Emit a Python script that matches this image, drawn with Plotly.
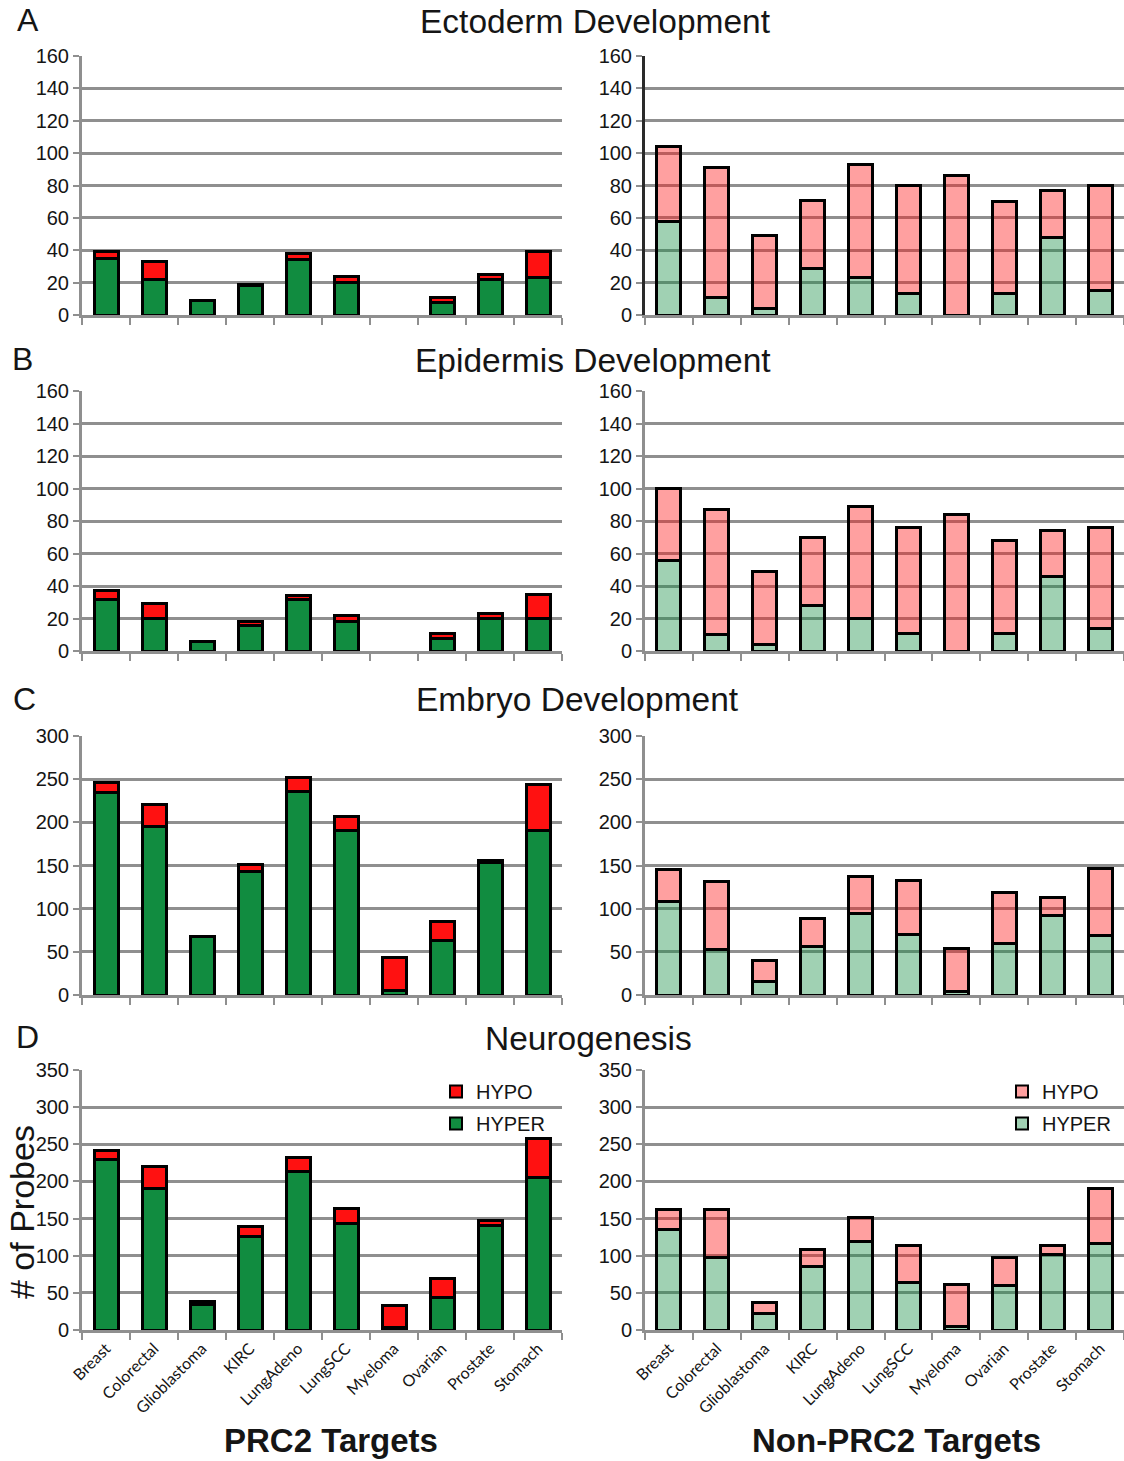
import plotly.graph_objects as go

# Cancer types along the x axis
categories = ["Breast", "Colorectal", "Glioblastoma", "KIRC", "LungAdeno",
              "LungSCC", "Myeloma", "Ovarian", "Prostate", "Stomach"]

# A: Ectoderm Development (None = no probes, nothing drawn)
ecto_prc2_hyper = [35, 22, 9, 18, 34, 20, None, 8, 22, 23]
ecto_prc2_hypo = [4, 11, 0, 1, 4, 4, None, 3, 3, 16]
ecto_non_hyper = [58, 11, 4, 29, 23, 13, 0, 13, 48, 15]
ecto_non_hypo = [46, 80, 45, 42, 70, 67, 86, 57, 29, 65]

# B: Epidermis Development
epi_prc2_hyper = [32, 20, 6, 16, 32, 18, None, 8, 20, 20]
epi_prc2_hypo = [5, 9, 0, 2, 2, 4, None, 3, 3, 15]
epi_non_hyper = [56, 10, 4, 28, 20, 11, 0, 11, 46, 14]
epi_non_hypo = [44, 77, 45, 42, 69, 65, 84, 57, 28, 62]

# C: Embryo Development
emb_prc2_hyper = [234, 195, 68, 143, 236, 190, 5, 63, 153, 190]
emb_prc2_hypo = [12, 26, 0, 8, 16, 17, 39, 22, 3, 54]
emb_non_hyper = [108, 53, 16, 56, 94, 70, 4, 60, 92, 69]
emb_non_hypo = [37, 78, 24, 33, 43, 63, 50, 59, 21, 77]

# D: Neurogenesis
neuro_prc2_hyper = [230, 191, 35, 126, 214, 144, 3, 44, 141, 205]
neuro_prc2_hypo = [12, 29, 4, 13, 18, 20, 30, 26, 7, 53]
neuro_non_hyper = [135, 98, 22, 85, 119, 64, 5, 60, 101, 117]
neuro_non_hypo = [27, 64, 15, 24, 32, 50, 56, 38, 13, 73]

panel_letters = ["A", "B", "C", "D"]
panel_titles = ["Ectoderm Development", "Epidermis Development",
                "Embryo Development", "Neurogenesis"]
y_max = [160, 160, 300, 350]
y_step = [20, 20, 50, 50]

rows = [
    (ecto_prc2_hyper, ecto_prc2_hypo, ecto_non_hyper, ecto_non_hypo),
    (epi_prc2_hyper, epi_prc2_hypo, epi_non_hyper, epi_non_hypo),
    (emb_prc2_hyper, emb_prc2_hypo, emb_non_hyper, emb_non_hypo),
    (neuro_prc2_hyper, neuro_prc2_hypo, neuro_non_hyper, neuro_non_hypo),
]

W, H = 1124, 1461

GREEN = "rgb(17,140,64)"
RED = "rgb(255,17,17)"
GREEN_LIGHT = "rgba(17,140,64,0.4)"
RED_LIGHT = "rgba(255,17,17,0.4)"
GRID = "#8f8f8f"
TEXT = "#151515"
FONT = "Liberation Sans, Arial, sans-serif"

# pixel rows (top, bottom) of each plot area
row_px = [(56, 315), (391, 651), (736, 995), (1070, 1330)]
col_px = [(82, 562), (645, 1124)]


def ydom(top, bottom):
    return [1 - bottom / H, 1 - top / H]


def xdom(left, right):
    return [left / W, right / W]


fig = go.Figure()
layout = {}
annotations = []

for r in range(4):
    hyper_l, hypo_l, hyper_r, hypo_r = rows[r]
    for c in range(2):
        idx = r * 2 + c + 1
        xa = "x" if idx == 1 else f"x{idx}"
        ya = "y" if idx == 1 else f"y{idx}"
        hyper = hyper_l if c == 0 else hyper_r
        hypo = hypo_l if c == 0 else hypo_r
        gcol = GREEN if c == 0 else GREEN_LIGHT
        rcol = RED if c == 0 else RED_LIGHT
        show = (r == 3)
        leg = "legend" if c == 0 else "legend2"
        fig.add_trace(go.Bar(
            x=categories, y=hyper, name="HYPER", xaxis=xa, yaxis=ya,
            marker=dict(color=gcol, line=dict(color="black", width=3)),
            showlegend=show, legend=leg, legendgroup=f"hyper{c}",
            legendrank=2,
        ))
        fig.add_trace(go.Bar(
            x=categories, y=hypo, name="HYPO", xaxis=xa, yaxis=ya,
            marker=dict(color=rcol, line=dict(color="black", width=3)),
            showlegend=show, legend=leg, legendgroup=f"hypo{c}",
            legendrank=1,
        ))

        xkey = "xaxis" if idx == 1 else f"xaxis{idx}"
        ykey = "yaxis" if idx == 1 else f"yaxis{idx}"
        layout[xkey] = dict(
            domain=xdom(*col_px[c]), anchor=ya, automargin=False,
            type="category", categoryorder="array", categoryarray=categories,
            range=[-0.5, 9.5],
            showline=True, linecolor=GRID, linewidth=3,
            ticks="outside", tickson="boundaries", ticklen=7,
            tickwidth=2, tickcolor=GRID,
            showgrid=False, showticklabels=(r == 3), tickangle=-45,
            tickfont=dict(family="Lato, Carlito, sans-serif", size=16, color=TEXT),
        )
        axis_col = "#2a2a2a" if (r == 0 and c == 1) else GRID
        layout[ykey] = dict(
            domain=ydom(*row_px[r]), anchor=xa, automargin=False,
            range=[0, y_max[r]], dtick=y_step[r], tick0=0,
            showline=True, linecolor=axis_col, linewidth=3,
            ticks="outside", ticklen=6, tickwidth=2, tickcolor=GRID,
            showgrid=True, gridcolor=GRID, gridwidth=2.5,
            zeroline=False,
            tickfont=dict(family=FONT, size=20, color=TEXT),
        )

# panel letters and titles
letter_pos = [(28, 20), (22, 359), (24, 699), (27, 1037)]
title_pos = [(595, 21), (593, 360), (577, 700), (588, 1038)]
for r in range(4):
    lx, ly = letter_pos[r]
    annotations.append(dict(text=panel_letters[r], x=lx / W, y=1 - ly / H,
                            xref="paper", yref="paper", showarrow=False,
                            xanchor="center", yanchor="middle",
                            font=dict(family=FONT, size=32, color=TEXT)))
    tx, ty = title_pos[r]
    annotations.append(dict(text=panel_titles[r], x=tx / W, y=1 - ty / H,
                            xref="paper", yref="paper", showarrow=False,
                            xanchor="center", yanchor="middle",
                            font=dict(family=FONT, size=33.5, color=TEXT)))

# y-axis caption
annotations.append(dict(text="# of Probes", x=22 / W, y=1 - 1212 / H,
                        xref="paper", yref="paper", showarrow=False,
                        textangle=-90, xanchor="center", yanchor="middle",
                        font=dict(family=FONT, size=34, color=TEXT)))

# column captions
annotations.append(dict(text="<b>PRC2 Targets</b>", x=331 / W, y=1 - 1440 / H,
                        xref="paper", yref="paper", showarrow=False,
                        xanchor="center", yanchor="middle",
                        font=dict(family=FONT, size=33, color=TEXT)))
annotations.append(dict(text="<b>Non-PRC2 Targets</b>", x=896 / W, y=1 - 1440 / H,
                        xref="paper", yref="paper", showarrow=False,
                        xanchor="center", yanchor="middle",
                        font=dict(family=FONT, size=33, color=TEXT)))

legend_style = dict(
    traceorder="grouped", tracegroupgap=3,
    font=dict(family=FONT, size=20, color=TEXT),
    bgcolor="rgba(0,0,0,0)", borderwidth=0,
    xanchor="left", yanchor="top", itemsizing="constant",
)

fig.update_layout(
    template="none",
    width=W, height=H, autosize=False,
    margin=dict(l=0, r=0, t=0, b=0, pad=0),
    paper_bgcolor="white", plot_bgcolor="white",
    barmode="stack", bargap=0.5,
    annotations=annotations,
    legend=dict(x=436 / W, y=1 - 1072 / H, **legend_style),
    legend2=dict(x=1002 / W, y=1 - 1072 / H, **legend_style),
    **layout,
)

fig.write_html("out.html")
